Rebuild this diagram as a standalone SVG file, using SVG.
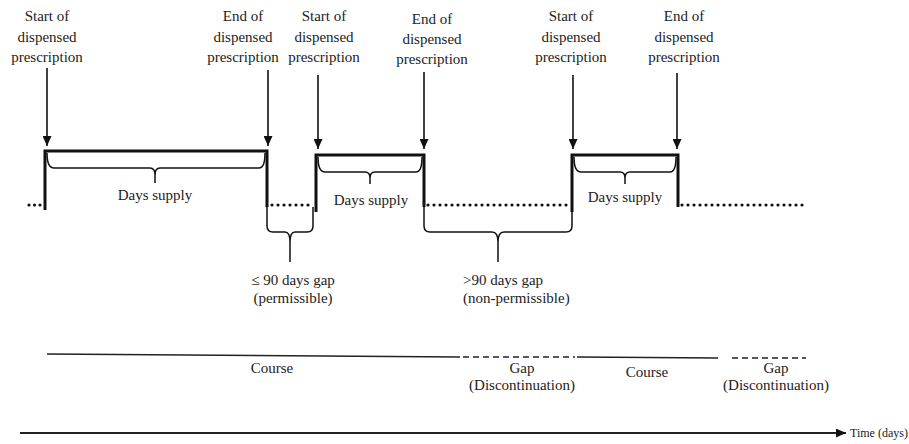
<svg xmlns="http://www.w3.org/2000/svg" width="909" height="444" viewBox="0 0 909 444">
<defs>
<marker id="ah" markerWidth="10" markerHeight="9" refX="10" refY="4.5" orient="auto" markerUnits="userSpaceOnUse">
<path d="M0,0 L10,4.5 L0,9 z" fill="#111"/>
</marker>
<style>
text{font-family:"Liberation Serif","Times New Roman","DejaVu Serif",serif;font-size:15px;fill:#222;text-anchor:middle}
.arr{stroke:#111;stroke-width:1.6;fill:none;marker-end:url(#ah)}
.pulse{stroke:#111;stroke-width:3;fill:none;stroke-linejoin:miter}
.br{stroke:#111;stroke-width:1.5;fill:none}
.dots{stroke:#111;stroke-width:3.2;stroke-linecap:round;stroke-dasharray:0 6}
.solid{stroke:#222;stroke-width:1.5;fill:none}
.dash{stroke:#222;stroke-width:1.5;fill:none;stroke-dasharray:6 4}
</style>
</defs>
<rect width="909" height="444" fill="#fff"/>
<g id="label-start-1">
<text x="47" y="21">Start of</text><text x="47" y="42">dispensed</text><text x="47" y="62">prescription</text>
</g>
<g id="label-end-1">
<text x="243" y="21">End of</text><text x="243" y="42">dispensed</text><text x="243" y="62">prescription</text>
</g>
<g id="label-start-2">
<text x="324" y="21">Start of</text><text x="324" y="42">dispensed</text><text x="324" y="62">prescription</text>
</g>
<g id="label-end-2">
<text x="432" y="24">End of</text><text x="432" y="44">dispensed</text><text x="432" y="64">prescription</text>
</g>
<g id="label-start-3">
<text x="571" y="21">Start of</text><text x="571" y="42">dispensed</text><text x="571" y="62">prescription</text>
</g>
<g id="label-end-3">
<text x="684" y="21">End of</text><text x="684" y="42">dispensed</text><text x="684" y="62">prescription</text>
</g>

<g id="supply-1">
<path class="pulse" d="M45,210 V151 H267 V207"/>
<path class="br" d="M47,153 Q47,168 54,168 H150 Q155,168 155,175 V183 M155,175 Q155,168 160,168 H259 Q265,168 265,153"/>
<text x="155" y="200">Days supply</text>
</g>
<g id="supply-2">
<path class="pulse" d="M316,212 V155 H424 V207"/>
<path class="br" d="M318,157 Q318,172 325,172 H365 Q370,172 370,178 V184 M370,178 Q370,172 375,172 H416 Q422,172 422,157"/>
<text x="371" y="205">Days supply</text>
</g>
<g id="supply-3">
<path class="pulse" d="M572,212 V155 H678 V207"/>
<path class="br" d="M574,157 Q574,172 581,172 H620 Q625,172 625,178 V184 M625,178 Q625,172 630,172 H670 Q676,172 676,157"/>
<text x="625" y="202">Days supply</text>
</g>

<g id="gap-1">
<line class="dots" x1="272" y1="205" x2="309" y2="205"/>
<path class="br" d="M267,207 V226 Q267,232 273,232 H285 Q290,232 290,242 V262 M290,242 Q290,232 295,232 H307 Q313,232 313,226 V207"/>
<text x="293" y="285">≤ 90 days gap</text>
<text x="293" y="303">(permissible)</text>
</g>
<g id="gap-2">
<line class="dots" x1="428" y1="205" x2="567" y2="205"/>
<path class="br" d="M424,207 V226 Q424,232 430,232 H492 Q498,232 498,242 V262 M498,242 Q498,232 504,232 H566 Q572,232 572,226 V207"/>
<text x="463" y="285" style="text-anchor:start">&gt;90 days gap</text>
<text x="463" y="303" style="text-anchor:start">(non-permissible)</text>
</g>

<g id="connectors">
<line class="dots" x1="29" y1="205" x2="41" y2="205" style="stroke-dasharray:0 5.5"/>
<line class="dots" x1="682" y1="205" x2="803" y2="205"/>
<line class="arr" x1="47" y1="68" x2="47" y2="146"/>
<line class="arr" x1="268" y1="70" x2="268" y2="146"/>
<line class="arr" x1="318" y1="75" x2="318" y2="149"/>
<line class="arr" x1="424" y1="72" x2="424" y2="149"/>
<line class="arr" x1="573" y1="75" x2="573" y2="149"/>
<line class="arr" x1="677" y1="73" x2="677" y2="149"/>
<line stroke="#222" stroke-width="2" x1="20" y1="433" x2="846" y2="433" marker-end="url(#ah)"/>
</g>

<g id="course-1">
<path class="solid" d="M47,354 L460,357"/>
<text x="272" y="373">Course</text>
</g>
<g id="gap-disc-1">
<path class="dash" d="M463,357 H575"/>
<text x="522" y="373">Gap</text>
<text x="522" y="390">(Discontinuation)</text>
</g>
<g id="course-2">
<path class="solid" d="M577,357 L718,358"/>
<text x="647" y="377">Course</text>
</g>
<g id="gap-disc-2">
<path class="dash" d="M732,358 H806"/>
<text x="776" y="373">Gap</text>
<text x="776" y="390">(Discontinuation)</text>
</g>
<g id="axis-label">
<text x="850" y="437" style="text-anchor:start;font-size:12px">Time (days)</text>
</g>
</svg>
